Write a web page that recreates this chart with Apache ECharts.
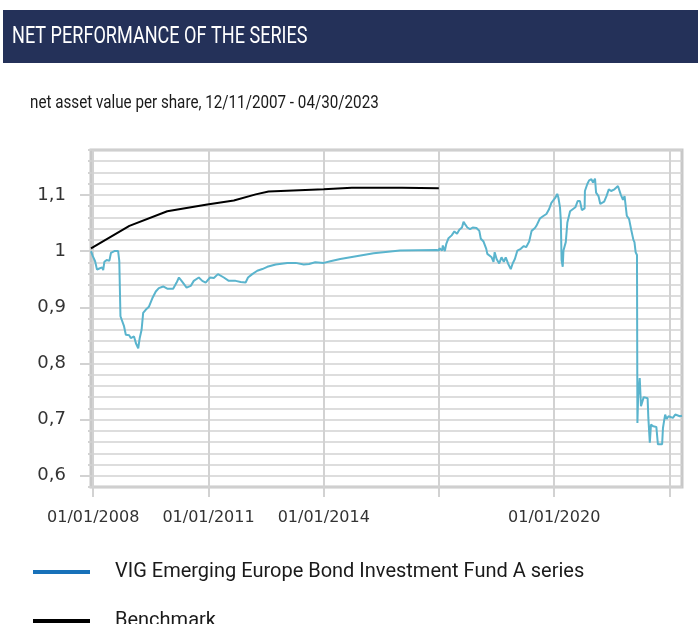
<!DOCTYPE html>
<html>
<head>
<meta charset="utf-8">
<title>Net performance of the series</title>
<script src="https://cdn.jsdelivr.net/npm/echarts@6/dist/echarts.min.js"></script>
<style>
    html, body {margin: 0; padding: 0; background: #ffffff;}
    #chart {width: 698px; height: 624px;}
</style>
</head>
<body>
<div id="chart"></div>
<script>
//---------------------------Data---------------------------
//fund net asset value per share
let fundDates = [
    '2007-12-11', '2007-12-28', '2008-01-19', '2008-02-06', '2008-02-28', '2008-03-26', '2008-04-05', '2008-04-16',
    '2008-05-08', '2008-06-03', '2008-06-18', '2008-07-20', '2008-08-25', '2008-09-05', '2008-09-16', '2008-10-05',
    '2008-10-19', '2008-11-06', '2008-12-09', '2008-12-23', '2009-01-23', '2009-02-10', '2009-03-04', '2009-03-18',
    '2009-04-05', '2009-04-20', '2009-05-16', '2009-06-14', '2009-07-16', '2009-08-18', '2009-09-16', '2009-10-27',
    '2009-12-05', '2010-01-30', '2010-03-04', '2010-03-26', '2010-04-20', '2010-05-01', '2010-06-07', '2010-07-16',
    '2010-08-14', '2010-10-01', '2010-11-03', '2010-12-05', '2011-01-16', '2011-02-21', '2011-04-01', '2011-05-27',
    '2011-07-13', '2011-07-31', '2011-09-16', '2011-11-03', '2011-12-20', '2012-01-12', '2012-02-21', '2012-04-09',
    '2012-05-27', '2012-07-13', '2012-10-01', '2013-01-19', '2013-04-09', '2013-06-25', '2013-08-14', '2013-10-12',
    '2014-01-01', '2014-03-04', '2014-06-07', '2015-04-20', '2015-12-27', '2016-12-09', '2017-01-01', '2017-01-05',
    '2017-01-30', '2017-02-06', '2017-02-25', '2017-03-11', '2017-04-01', '2017-05-01', '2017-05-27', '2017-06-21',
    '2017-07-13', '2017-08-07', '2017-08-22', '2017-09-05', '2017-09-27', '2017-10-23', '2017-11-17', '2017-12-23',
    '2018-01-19', '2018-02-02', '2018-02-28', '2018-03-26', '2018-04-05', '2018-04-20', '2018-05-16', '2018-06-03',
    '2018-06-14', '2018-07-02', '2018-07-27', '2018-08-18', '2018-09-09', '2018-09-27', '2018-10-19', '2018-11-14',
    '2018-12-02', '2018-12-23', '2019-01-16', '2019-02-17', '2019-03-18', '2019-04-09', '2019-05-08', '2019-05-31',
    '2019-07-02', '2019-07-16', '2019-08-18', '2019-09-16', '2019-10-19', '2019-11-14', '2019-12-05', '2020-01-12',
    '2020-01-30', '2020-02-10', '2020-02-25', '2020-03-04', '2020-03-11', '2020-03-22', '2020-03-29', '2020-04-20',
    '2020-05-05', '2020-05-31', '2020-06-18', '2020-07-20', '2020-08-11', '2020-09-02', '2020-09-20', '2020-10-16',
    '2020-10-19', '2020-11-10', '2020-11-28', '2020-12-20', '2021-01-04', '2021-01-23', '2021-02-02', '2021-02-25',
    '2021-03-14', '2021-04-01', '2021-04-20', '2021-05-12', '2021-06-03', '2021-06-25', '2021-07-27', '2021-08-29',
    '2021-09-13', '2021-09-24', '2021-10-16', '2021-10-31', '2021-11-17', '2021-11-21', '2021-12-13', '2022-01-01',
    '2022-01-23', '2022-02-02', '2022-02-13', '2022-02-26', '2022-03-02', '2022-03-09', '2022-03-24', '2022-04-01',
    '2022-04-05', '2022-04-20', '2022-05-01', '2022-06-07', '2022-06-14', '2022-06-28', '2022-07-09', '2022-07-31',
    '2022-08-11', '2022-08-29', '2022-09-13', '2022-10-23', '2022-10-31', '2022-11-10', '2022-11-21', '2022-12-05',
    '2022-12-23', '2023-01-08', '2023-02-02', '2023-02-25', '2023-04-09', '2023-04-30'
];
let fundValues = [
    1.000, 0.991, 0.982, 0.967, 0.969, 0.971, 0.966, 0.981,
    0.984, 0.983, 0.997, 1.000, 1.000, 0.982, 0.884, 0.881,
    0.867, 0.851, 0.850, 0.845, 0.848, 0.836, 0.827, 0.845,
    0.860, 0.890, 0.896, 0.901, 0.916, 0.928, 0.934, 0.937,
    0.933, 0.933, 0.944, 0.953, 0.947, 0.944, 0.935, 0.938,
    0.947, 0.953, 0.947, 0.944, 0.953, 0.952, 0.959, 0.953,
    0.947, 0.950, 0.947, 0.945, 0.944, 0.953, 0.959, 0.965,
    0.968, 0.972, 0.976, 0.979, 0.979, 0.976, 0.977, 0.980,
    0.979, 0.982, 0.986, 0.996, 1.001, 1.002, 1.001, 1.005,
    1.001, 1.010, 1.000, 1.013, 1.023, 1.028, 1.035, 1.031,
    1.038, 1.042, 1.052, 1.048, 1.042, 1.039, 1.042, 1.041,
    1.036, 1.022, 1.017, 1.004, 0.995, 0.998, 0.989, 0.981,
    0.998, 0.986, 0.978, 0.989, 0.981, 0.989, 0.978, 0.968,
    0.978, 0.986, 1.001, 1.004, 1.009, 1.007, 1.017, 1.036,
    1.041, 1.045, 1.058, 1.062, 1.066, 1.075, 1.086, 1.095,
    1.102, 1.095, 1.078, 1.054, 0.984, 0.972, 1.001, 1.016,
    1.051, 1.071, 1.069, 1.078, 1.089, 1.089, 1.073, 1.076,
    1.107, 1.119, 1.126, 1.128, 1.122, 1.129, 1.104, 1.098,
    1.084, 1.081, 1.088, 1.098, 1.110, 1.107, 1.110, 1.116,
    1.118, 1.101, 1.091, 1.098, 1.098, 1.063, 1.057, 1.039,
    1.020, 1.016, 0.998, 0.993, 0.694, 0.741, 0.774, 0.774,
    0.724, 0.724, 0.740, 0.738, 0.703, 0.659, 0.691, 0.688,
    0.691, 0.687, 0.656, 0.656, 0.685, 0.697, 0.709, 0.701,
    0.706, 0.709, 0.703, 0.709, 0.706, 0.707
];

//benchmark
let benchDates = [
    '2007-12-11', '2008-12-10', '2009-12-05', '2010-12-20', '2011-08-30', '2012-03-25',
    '2012-07-25', '2014-01-01', '2014-09-25', '2016-01-15', '2016-12-30'
];
let benchValues = [1.005, 1.045, 1.071, 1.083, 1.090, 1.101, 1.106, 1.110, 1.113, 1.113, 1.112];

//axes
let startDate = '2007-12-11';
let endDate = '2023-04-30';
let gridDates = ['2008-01-01', '2011-01-01', '2014-01-01', '2017-01-01', '2020-01-01', '2023-01-01'];
let labelDates = ['2008-01-01', '2011-01-01', '2014-01-01', '2020-01-01'];
let yTicks = [0.6, 0.7, 0.8, 0.9, 1.0, 1.1];

let seriesNames = ['VIG Emerging Europe Bond Investment Fund A series', 'Benchmark'];

//---------------------------Function---------------------------
//date string -> timestamp
function toTime(s) {
    let p = s.split('-');
    return new Date(+p[0], +p[1] - 1, +p[2]).getTime();
}

function zip(dates, values) {
    let out = [];
    for (let i = 0; i < dates.length; i++) {
        out.push([toTime(dates[i]), values[i]]);
    }
    return out;
}

function pad(n) {
    return n < 10 ? '0' + n : '' + n;
}

function formatDate(value) {
    let d = new Date(value);
    return pad(d.getMonth() + 1) + '/' + pad(d.getDate()) + '/' + d.getFullYear();
}

function formatNumber(value) {
    return (Math.round(value * 10) / 10).toString().replace('.', ',');
}

//one legend block per series, stacked
function makeLegend(name, color, top) {
    return {
        orient: 'vertical',
        left: 33,
        top: top,
        padding: 0,
        icon: 'rect',
        itemWidth: 57,
        itemHeight: 4,
        selectedMode: false,
        textStyle: {color: '#1a1a1a', fontSize: 20, fontFamily: 'Roboto', padding: [0, 0, 0, 20]},
        data: [{name: name, itemStyle: {color: color}}]
    };
}

//---------------------------Chart---------------------------
let chart = echarts.init(document.getElementById('chart'));

let gridColor = '#d2d2d2';

let option = {
    animation: false,
    backgroundColor: '#ffffff',
    graphic: [{
        type: 'rect',
        left: 3,
        top: 10,
        shape: {width: 695, height: 53},
        style: {fill: '#243159'},
        z: 0
    }, {
        //condensed header text
        type: 'text',
        x: 12,
        y: 37,
        scaleX: 0.753,
        style: {
            text: 'NET PERFORMANCE OF THE SERIES',
            fill: '#ffffff',
            font: '24px Roboto',
            verticalAlign: 'middle'
        },
        z: 1
    }, {
        type: 'text',
        x: 30,
        y: 103,
        scaleX: 0.8,
        style: {
            text: 'net asset value per share, 12/11/2007 - 04/30/2023',
            fill: '#1a1a1a',
            font: '19px Roboto',
            verticalAlign: 'middle'
        },
        z: 1
    }],
    legend: [
        makeLegend(seriesNames[0], '#1771b9', 562),
        makeLegend(seriesNames[1], '#000000', 611)
    ],
    grid: {
        left: 91,
        right: 16,
        top: 150,
        bottom: 137,
        show: true,
        borderColor: '#c8c8c8',
        borderWidth: 3
    },
    xAxis: {
        type: 'value',
        min: toTime(startDate),
        max: toTime(endDate),
        axisLine: {show: false},
        axisTick: {
            show: true,
            customValues: gridDates.map(toTime),
            length: 10,
            lineStyle: {color: gridColor, width: 2}
        },
        axisLabel: {
            customValues: labelDates.map(toTime),
            margin: 23,
            color: '#333333',
            fontSize: 16,
            fontFamily: 'DejaVu Sans',
            formatter: formatDate
        },
        splitLine: {show: true, lineStyle: {color: gridColor, width: 2}}
    },
    yAxis: [{
        type: 'value',
        min: 0.58,
        max: 1.18,
        interval: 0.02,
        axisLine: {show: false},
        axisTick: {show: true, length: 3, lineStyle: {color: gridColor, width: 2}},
        axisLabel: {show: false},
        splitLine: {show: true, lineStyle: {color: gridColor, width: 1.5}}
    }, {
        type: 'value',
        position: 'left',
        min: 0.58,
        max: 1.18,
        axisLine: {show: false},
        axisTick: {show: true, customValues: yTicks, length: 11, lineStyle: {color: gridColor, width: 2}},
        axisLabel: {
            customValues: yTicks,
            margin: 25,
            color: '#333333',
            fontSize: 18,
            fontFamily: 'DejaVu Sans',
            formatter: formatNumber
        },
        splitLine: {show: false}
    }],
    series: [{
        name: seriesNames[0],
        type: 'line',
        showSymbol: false,
        data: zip(fundDates, fundValues),
        lineStyle: {color: '#5ab4cd', width: 2},
        itemStyle: {color: '#1771b9'},
        z: 3
    }, {
        name: seriesNames[1],
        type: 'line',
        showSymbol: false,
        data: zip(benchDates, benchValues),
        lineStyle: {color: '#000000', width: 2},
        itemStyle: {color: '#000000'},
        z: 4
    }]
};

chart.setOption(option);

window.onresize = function() {
    chart.resize();
};
</script>
</body>
</html>
